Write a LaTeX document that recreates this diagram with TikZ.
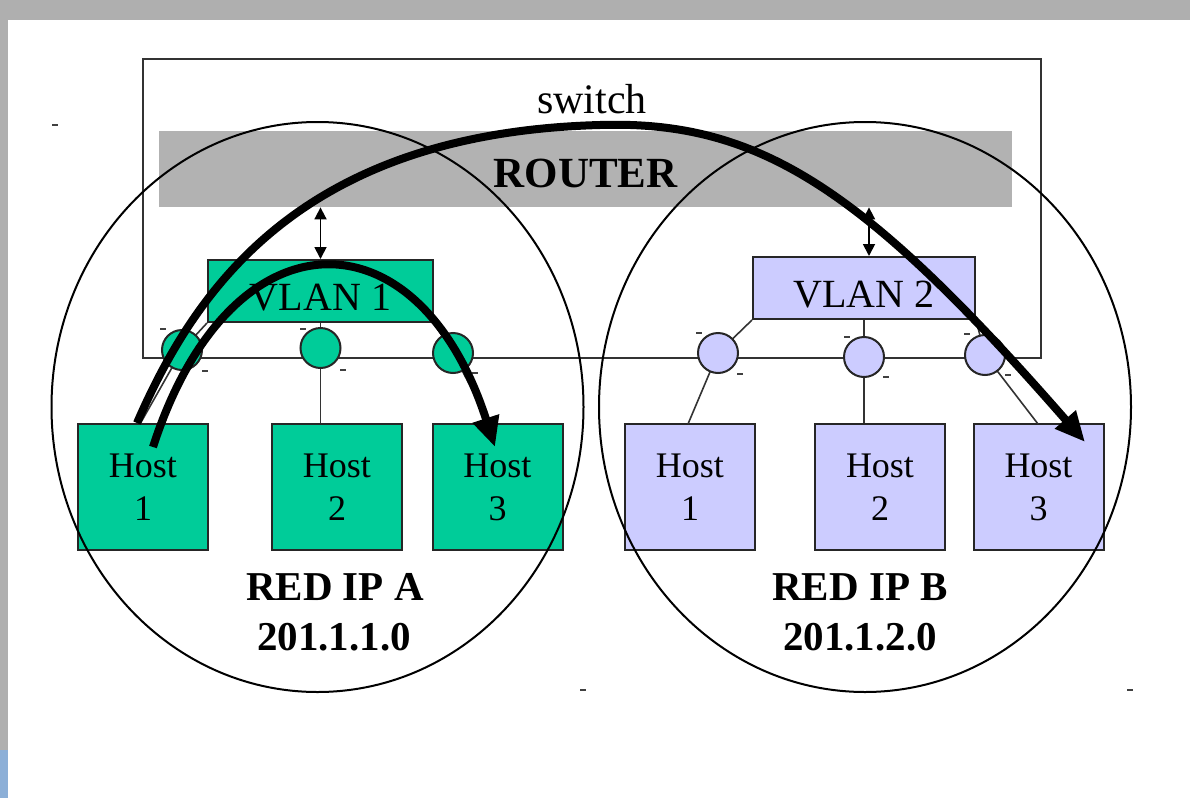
\documentclass[tikz,border=0pt]{standalone}
\usepackage{fontspec}
\setmainfont{Liberation Serif}
\usetikzlibrary{arrows.meta,shapes.geometric}
\definecolor{vgreen}{RGB}{0,204,153}
\definecolor{vlav}{RGB}{204,204,255}
\definecolor{rgrey}{RGB}{178,178,178}
\definecolor{bggrey}{RGB}{175,175,175}
\definecolor{bgblue}{RGB}{140,175,215}
\begin{document}
\begin{tikzpicture}[x=0.5pt,y=-0.5pt,
  edge/.style={draw=black!85, line width=1pt},
  hostg/.style={edge, fill=vgreen, minimum width=65pt, minimum height=63pt, inner sep=0pt,
    align=center, font=\fontsize{18}{21.5}\selectfont},
  hostl/.style={hostg, fill=vlav},
  vlanbox/.style={edge, minimum width=112pt, minimum height=31pt, inner sep=0pt,
    font=\fontsize{20}{24}\selectfont, text height=19pt, text depth=0pt},
  port/.style={circle, edge, minimum size=20pt, inner sep=0pt},
  thinln/.style={draw=black!80, line width=0.8pt},
  net/.style={ellipse, draw=black, line width=1pt, minimum width=266pt, minimum height=285pt, inner sep=0pt},
  lbl/.style={font=\fontsize{20.5}{24}\selectfont\bfseries, anchor=base, inner sep=0pt},
  dbl/.style={draw=black, line width=0.9pt, {Triangle[length=6pt,width=6pt]}-{Triangle[length=6pt,width=6pt]}},
  bigarrow/.style={draw=black, line width=4pt, -{Triangle[length=15pt,width=13pt]}},
  dashmk/.style={draw=black!75, line width=0.9pt}
]
\useasboundingbox (0,0) rectangle (1190,798);
% background frame of the slide
\fill[white] (0,0) rectangle (1190,798);
\fill[bggrey] (0,0) rectangle (1190,20);
\fill[bggrey] (0,0) rectangle (8,750);
\fill[bgblue] (0,750) rectangle (8,798);

% switch and router
\node[edge, draw=black!80, minimum width=449pt, minimum height=149.5pt, inner sep=0pt] (switch) at (592,208.5) {};
\node[anchor=base, font=\fontsize{21}{25}\selectfont, inner sep=0pt] (swlbl) at (592,113) {switch};
\node[fill=rgrey, minimum width=426.5pt, minimum height=38pt, inner sep=0pt,
  font=\fontsize{21.5}{25}\selectfont\bfseries, text height=18pt, text depth=0pt] (router) at (585.5,169) {ROUTER};

% VLAN boxes
\node[vlanbox, fill=vgreen, minimum width=112.5pt] (vlanA) at (320.5,291) {VLAN 1};
\node[vlanbox, fill=vlav, minimum width=111pt] (vlanB) at (864,288) {VLAN 2};

\coordinate (dB) at (869,0);
\draw[dbl] (router.south -| vlanA.north) -- (vlanA.north);
\draw[dbl] (router.south -| dB) -- (vlanB.north -| dB);

% hosts
\node[hostg] (hA1) at (143,487) {Host\\1};
\node[hostg] (hA2) at (337,487) {Host\\2};
\node[hostg] (hA3) at (497.5,487) {Host\\3};
\node[hostl] (hB1) at (690,487) {Host\\1};
\node[hostl] (hB2) at (880,487) {Host\\2};
\node[hostl] (hB3) at (1038.5,487) {Host\\3};

% host attachment points
\coordinate (tA1) at (140,424);
\coordinate (tA3) at (490,424);
\coordinate (tB1) at (688,424);
\coordinate (tB3) at (1038,424);

% links (drawn before the ports so the ports cover them)
\draw[thinln] (vlanA.south west) -- (182,350) -- (tA1);
\draw[thinln] (vlanA.south) -- (hA2.north -| vlanA.south);
\draw[thinln] (vlanA.south east) -- (453,353) -- (tA3);
\draw[thinln] (vlanB.south west) -- (718,353) -- (tB1);
\draw[thinln] (vlanB.south) -- (hB2.north -| vlanB.south);
\draw[thinln] (vlanB.south east) -- (985,355) -- (tB3);

% ports
\node[port, fill=vgreen] (pA1) at (182,350) {};
\node[port, fill=vgreen] (pA2) at (320.5,348) {};
\node[port, fill=vgreen] (pA3) at (453,353) {};
\node[port, fill=vlav] (pB1) at (718,353) {};
\node[port, fill=vlav] (pB2) at (864,357) {};
\node[port, fill=vlav] (pB3) at (985,355) {};

% small marks
\foreach \mx/\my in {163/329,205/371,303/329,343/370,475/373,699/333,740/374,847/337,886/377,967/334,1008/375,55/125,583/690,1130/690}
  \draw[dashmk] (\mx-3,\my) -- (\mx+3,\my);

% IP networks
\node[net] (netA) at (317.5,407) {};
\node[net] (netB) at (865,407) {};
\node[lbl] (labA1) at (335,600) {RED IP A};
\node[lbl] (labA2) at (334,650) {201.1.1.0};
\node[lbl] (labB1) at (860,600) {RED IP B};
\node[lbl] (labB2) at (860,650) {201.1.2.0};

% traffic arrows
\coordinate (a1s) at (153,447);
\coordinate (a1e) at (495,447);
\coordinate (a2s) at (137,423);
\coordinate (a2m) at (600,125);
\coordinate (a2e) at (1085,442);
\draw[bigarrow] (a1s) .. controls (230,208) and (418,208) .. (a1e);
\draw[bigarrow] (a2s) .. controls (195,290) and (300,133) .. (a2m)
  .. controls (760,120) and (865,190) .. (a2e);
\end{tikzpicture}
\end{document}
